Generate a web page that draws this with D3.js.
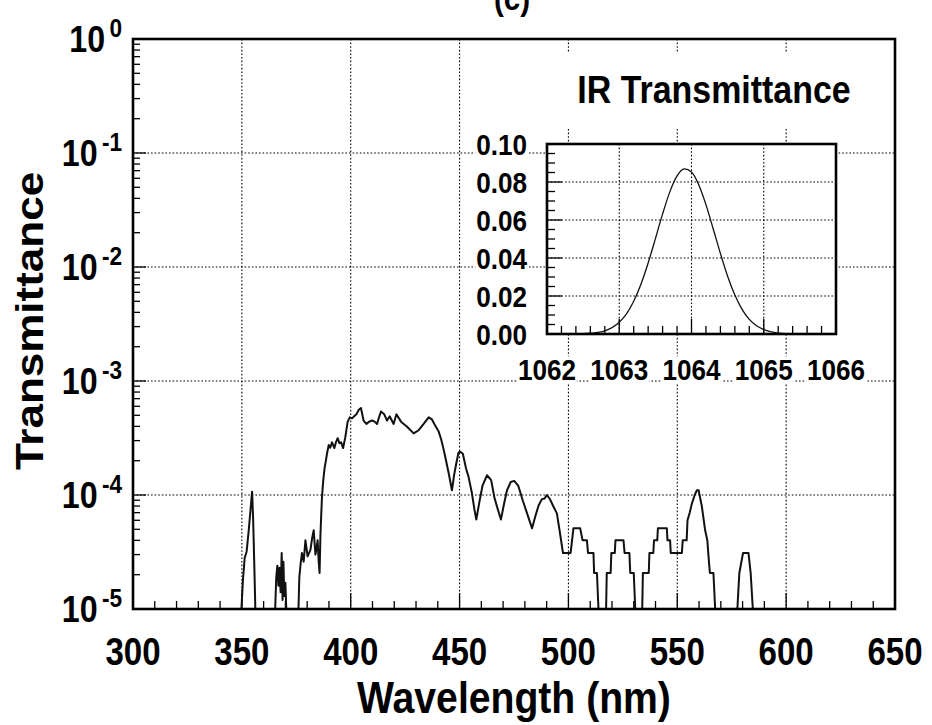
<!DOCTYPE html>
<html><head><meta charset="utf-8">
<script src="https://cdn.jsdelivr.net/npm/d3@7"></script>
<style>
body{margin:0;background:#fff}
svg{display:block}
text{font-family:"Liberation Sans",Arial,Helvetica,sans-serif;font-weight:bold;fill:#000}
</style>
</head><body>
<svg id="c" width="932" height="725"></svg>
<script>
// ---------- data ----------
const wavelengths = [300,349.8,350.5,351.3,352.2,353.2,354.0,354.7,355.2,355.7,356.2,
365.3,365.8,366.3,366.8,367.3,367.8,368.3,368.7,369.1,369.5,370.0,370.4,
376.0,376.4,377.0,377.6,378.4,379.2,380.2,381.5,382.3,383.0,383.8,384.3,384.8,385.3,385.7,386.1,386.5,386.8,
387.4,388.0,388.6,389.1,389.9,390.6,391.4,392.5,393.2,394.0,394.8,395.6,396.5,397.5,398.6,399.6,400.6,401.6,
402.6,403.7,404.7,405.9,407.2,408.5,409.8,411.0,412.1,413.0,413.9,415.4,416.7,417.9,419.7,421.0,423.1,425.9,
428.9,431.2,433.5,435.8,437.3,439.0,440.4,441.5,442.7,443.8,445.0,446.5,447.5,448.5,449.5,450.3,451.5,453.0,
454.1,455.7,456.8,457.7,459.0,460.5,462.6,464.5,466.0,467.2,469.0,470.5,471.8,473.5,475.1,477.0,479.0,481.0,
483.3,484.8,486.3,487.8,489.0,490.1,491.5,493.0,494.7,496.0,497.5,501.0,502.3,505.4,506.5,508.5,509.0,511.5,
511.8,513.1,513.8,517.3,517.6,519.4,519.7,521.3,521.6,525.3,525.8,528.0,528.4,530.0,530.7,533.9,534.2,536.9,
537.2,539.0,539.3,540.8,541.1,545.2,545.5,546.7,547.0,552.1,552.5,554.3,554.7,555.7,556.7,558.0,559.0,559.8,
561.3,562.8,563.8,564.6,565.0,566.6,567.4,577.6,578.5,580.2,582.7,583.7,584.7,650];
const transmittance = [1e-5,1e-5,1.8e-5,2.8e-5,3.2e-5,5.0e-5,7.5e-5,1.07e-4,6.0e-5,2.5e-5,1e-5,
1e-5,1.9e-5,2.4e-5,1.6e-5,2.3e-5,1.4e-5,3.1e-5,1.2e-5,2.6e-5,1.3e-5,1.7e-5,1e-5,
1e-5,1.9e-5,2.5e-5,3.1e-5,2.6e-5,4.0e-5,2.9e-5,3.3e-5,4.2e-5,4.9e-5,3.0e-5,3.4e-5,4.0e-5,2.6e-5,2.07e-5,4.5e-5,7.0e-5,9.6e-5,
1.35e-4,1.72e-4,2.0e-4,2.3e-4,2.75e-4,2.6e-4,2.9e-4,2.58e-4,2.9e-4,3.15e-4,2.85e-4,2.9e-4,2.58e-4,3.2e-4,4.4e-4,4.8e-4,4.7e-4,4.9e-4,
5.1e-4,5.6e-4,5.8e-4,4.5e-4,4.2e-4,4.4e-4,4.5e-4,4.4e-4,4.2e-4,4.8e-4,5.4e-4,5.1e-4,4.5e-4,4.9e-4,4.2e-4,5.1e-4,4.4e-4,3.97e-4,
3.47e-4,3.7e-4,4.2e-4,4.8e-4,4.6e-4,4.0e-4,3.6e-4,3.1e-4,2.5e-4,2.0e-4,1.55e-4,1.1e-4,1.5e-4,1.9e-4,2.35e-4,2.4e-4,2.3e-4,1.7e-4,
1.45e-4,1.03e-4,7.5e-5,6.1e-5,8.5e-5,1.2e-4,1.49e-4,1.35e-4,9.5e-5,7.9e-5,6.1e-5,8.5e-5,1.1e-4,1.3e-4,1.33e-4,1.2e-4,9.0e-5,6.9e-5,
5.1e-5,6.5e-5,8.1e-5,9.2e-5,9.3e-5,1.0e-4,9.2e-5,8.0e-5,6.9e-5,4.8e-5,3.1e-5,3.1e-5,5.1e-5,5.1e-5,4.0e-5,4.0e-5,3.1e-5,3.1e-5,
2.07e-5,2.07e-5,1e-5,1e-5,2.07e-5,2.07e-5,3.1e-5,3.1e-5,4.0e-5,4.0e-5,3.1e-5,3.1e-5,2.07e-5,2.07e-5,1e-5,1e-5,2.07e-5,2.07e-5,
3.1e-5,3.1e-5,4.0e-5,4.0e-5,5.1e-5,5.1e-5,4.0e-5,4.0e-5,3.1e-5,3.1e-5,4.0e-5,4.0e-5,6.0e-5,7.0e-5,8.4e-5,1.0e-4,1.1e-4,1.1e-4,
7.9e-5,4.9e-5,4.0e-5,2.5e-5,2.07e-5,2.07e-5,1e-5,1e-5,2.07e-5,3.1e-5,3.1e-5,2.07e-5,1e-5,1e-5];

const irWavelength = [1062.0,1062.4,1062.6,1062.8,1063.0,1063.1,1063.2,1063.3,1063.4,1063.5,1063.6,1063.7,1063.8,1063.9,
1064.0,1064.1,1064.2,1064.3,1064.4,1064.5,1064.6,1064.7,1064.8,1064.9,1065.0,1065.2,1065.4,1066.0];
const irTransmittance = [0,0,0.0004,0.0017,0.0062,0.0106,0.0172,0.0262,0.0374,0.0501,0.0632,0.0748,0.0832,0.0869,
0.0853,0.0786,0.0681,0.0554,0.0424,0.0304,0.0205,0.0130,0.0077,0.0043,0.0023,0.0005,0.0001,0];

const xTickValues = [300,350,400,450,500,550,600,650];
const yTickExponents = [0,-1,-2,-3,-4,-5];
const insetXTicks = [1062,1063,1064,1065,1066];
const insetYTicks = [0,0.02,0.04,0.06,0.08,0.10];

// ---------- layout ----------
const svg = d3.select('#c');
const K = 0.87; // horizontal text compression
const M = {l:133, r:895, t:39, b:609};
const I = {l:547, r:836, t:144, b:334};

const x = d3.scaleLinear().domain([300,650]).range([M.l, M.r]);
const y = d3.scaleLog().domain([1e-5,1]).range([M.b, M.t]);
const xi = d3.scaleLinear().domain([1062,1066]).range([I.l, I.r]);
const yi = d3.scaleLinear().domain([0,0.10]).range([I.b, I.t]);

svg.append('rect').attr('width',932).attr('height',725).attr('fill','#fff');

function htext(parent, px, py, str, size, anchor){
  const g = parent.append('g').attr('transform',`translate(${px},${py}) scale(${K},1)`);
  const t = g.append('text').attr('text-anchor',anchor||'middle').style('font-size',size+'px').text(str);
  return {g,t};
}

const dot = '1.6,2';
// main gridlines
const gGrid = svg.append('g').attr('stroke','#000').attr('stroke-width',1.1).attr('stroke-dasharray',dot);
xTickValues.slice(1,-1).forEach(v=>{
  gGrid.append('line').attr('x1',x(v)).attr('x2',x(v)).attr('y1',M.t).attr('y2',M.b);
});
yTickExponents.slice(1,-1).forEach(e=>{
  const v = Math.pow(10,e);
  gGrid.append('line').attr('x1',M.l).attr('x2',M.r).attr('y1',y(v)).attr('y2',y(v));
});

// main ticks
const gT = svg.append('g').attr('stroke','#000').attr('stroke-width',1.3);
for(let v=310; v<650; v+=10){
  const major = v%50===0;
  gT.append('line').attr('x1',x(v)).attr('x2',x(v)).attr('y1',M.b).attr('y2',M.b-(major?16:8));
}
for(let e=-5;e<0;e++){
  for(let m=1;m<=9;m++){
    if(m===1 && e===-5) continue;
    const v = m*Math.pow(10,e);
    gT.append('line').attr('x1',M.l).attr('x2',M.l+(m===1?13:7)).attr('y1',y(v)).attr('y2',y(v));
  }
}

// main data line
const mainData = wavelengths.map((w,i)=>[w,transmittance[i]]);
svg.append('path').datum(mainData)
  .attr('fill','none').attr('stroke','#111').attr('stroke-width',2).attr('stroke-linejoin','round')
  .attr('d', d3.line().x(d=>x(d[0])).y(d=>y(d[1])));

// title box and title
svg.append('rect').attr('x',478).attr('y',52).attr('width',M.r-480).attr('height',76).attr('fill','#fff');
htext(svg, 714, 103, 'IR Transmittance', 39, 'middle');

// inset
svg.append('rect').attr('x',I.l).attr('y',I.t).attr('width',I.r-I.l).attr('height',I.b-I.t).attr('fill','#fff');
const gIG = svg.append('g').attr('stroke','#000').attr('stroke-width',1.1).attr('stroke-dasharray',dot);
insetXTicks.slice(1,-1).forEach(v=>gIG.append('line').attr('x1',xi(v)).attr('x2',xi(v)).attr('y1',I.t).attr('y2',I.b));
insetYTicks.slice(1,-1).forEach(v=>gIG.append('line').attr('x1',I.l).attr('x2',I.r).attr('y1',yi(v)).attr('y2',yi(v)));
const gIT = svg.append('g').attr('stroke','#000').attr('stroke-width',1.3);
for(let i=1;i<20;i++){
  const v = 1062 + i*0.2;
  const major = i%5===0;
  gIT.append('line').attr('x1',xi(v)).attr('x2',xi(v)).attr('y1',I.b).attr('y2',I.b-(major?15:8));
}
for(let i=1;i<20;i++){
  const v = i*0.005;
  const major = i%4===0;
  gIT.append('line').attr('x1',I.l).attr('x2',I.l+(major?15:8)).attr('y1',yi(v)).attr('y2',yi(v));
}
const irData = irWavelength.map((w,i)=>[w,irTransmittance[i]]);
svg.append('path').datum(irData)
  .attr('fill','none').attr('stroke','#111').attr('stroke-width',1.3)
  .attr('d', d3.line().curve(d3.curveMonotoneX).x(d=>xi(d[0])).y(d=>yi(d[1])));
svg.append('rect').attr('x',I.l).attr('y',I.t).attr('width',I.r-I.l).attr('height',I.b-I.t)
  .attr('fill','none').attr('stroke','#000').attr('stroke-width',2.6);

function knock(o){
  const bb = o.t.node().getBBox();
  o.g.insert('rect','text').attr('x',bb.x-1).attr('y',bb.y+3).attr('width',bb.width+2).attr('height',bb.height-6).attr('fill','#fff');
}
insetYTicks.forEach(v=>{
  knock(htext(svg, 527, yi(v)+11, v.toFixed(2), 30, 'end'));
});
insetXTicks.forEach(v=>{
  knock(htext(svg, xi(v), 380, String(v), 30, 'middle'));
});

// main frame
svg.append('rect').attr('x',M.l).attr('y',M.t).attr('width',M.r-M.l).attr('height',M.b-M.t)
  .attr('fill','none').attr('stroke','#000').attr('stroke-width',2.6);

// main axis labels
xTickValues.forEach(v=>htext(svg, x(v), 665, String(v), 38, 'middle'));
yTickExponents.forEach(e=>{
  const yy = y(Math.pow(10,e)) + 13;
  const g = svg.append('g').attr('transform',`translate(122,${yy}) scale(${K},1)`);
  const t = g.append('text').attr('text-anchor','end');
  t.append('tspan').style('font-size','37px').text('10');
  t.append('tspan').style('font-size','26px').attr('dy',-15).attr('dx',5).text(String(e));
});

htext(svg, 514, 713, 'Wavelength (nm)', 45, 'middle');
svg.append('g').attr('transform',`translate(43,321) scale(${K},1) rotate(-90)`)
  .append('text').attr('text-anchor','middle').style('font-size','44px').text('Transmittance');
htext(svg, 512, 10, '(c)', 34, 'middle');
</script>
</body></html>
